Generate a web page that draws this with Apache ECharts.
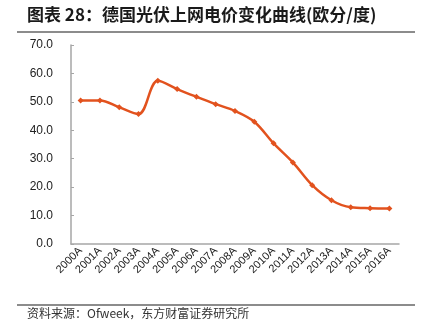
<!DOCTYPE html>
<html>
<head>
<meta charset="utf-8">
<script src="https://cdn.jsdelivr.net/npm/echarts@6/dist/echarts.min.js"></script>
<style>
html,body{margin:0;padding:0;background:#fff;}
#chart{width:426px;height:329px;}
</style>
</head>
<body>
<div id="chart"></div>
<script>
// Feed-in tariff for German PV, euro cents per kWh
const years = ['2000A','2001A','2002A','2003A','2004A','2005A','2006A','2007A','2008A','2009A','2010A','2011A','2012A','2013A','2014A','2015A','2016A'];
const tariff = [50.5, 50.5, 48.1, 45.7, 57.4, 54.5, 51.8, 49.2, 46.8, 43.0, 35.4, 28.7, 20.7, 15.4, 12.9, 12.6, 12.5];
const yTicks = [0, 10, 20, 30, 40, 50, 60, 70];

const chart = echarts.init(document.getElementById('chart'));
const font = '"Noto Sans CJK SC", sans-serif';
chart.setOption({
  animation: false,
  backgroundColor: '#fff',
  grid: { left: 71, right: 27, top: 45, bottom: 85 },
  graphic: [
    { type: 'text', left: 27, top: 6, style: { text: '图表 28：德国光伏上网电价变化曲线(欧分/度)', font: 'bold 17px ' + font, fill: '#1a1a1a' } },
    { type: 'rect', shape: { x: 17, y: 31, width: 398, height: 2 }, style: { fill: '#8c8c8c' } },
    { type: 'rect', shape: { x: 17, y: 304, width: 398, height: 2 }, style: { fill: '#8c8c8c' } },
    { type: 'text', left: 27, top: 307, style: { text: '资料来源：Ofweek，东方财富证券研究所', font: '12px ' + font, fill: '#333' } }
  ],
  xAxis: {
    type: 'category',
    data: years,
    boundaryGap: true,
    axisLine: { lineStyle: { color: '#a6a6a6', width: 1.5 } },
    axisTick: { inside: true, length: 3, lineStyle: { color: '#a6a6a6' } },
    axisLabel: { rotate: 45, interval: 0, fontSize: 11, color: '#222', fontFamily: 'Arial, "Liberation Sans", sans-serif', margin: 5 }
  },
  yAxis: {
    type: 'value',
    min: yTicks[0],
    max: yTicks[yTicks.length - 1],
    interval: 10,
    splitLine: { show: false },
    axisLine: { show: true, lineStyle: { color: '#a6a6a6', width: 1.5 } },
    axisTick: { show: true, inside: true, length: 3, lineStyle: { color: '#a6a6a6' } },
    axisLabel: { fontSize: 12, color: '#222', margin: 18, fontFamily: 'Arial, "Liberation Sans", sans-serif', formatter: v => v.toFixed(1) }
  },
  series: [{
    type: 'line',
    data: tariff,
    smooth: 0.35,
    symbol: 'diamond',
    symbolSize: 6,
    lineStyle: { color: '#E2521E', width: 2.5 },
    itemStyle: { color: '#E2521E' }
  }]
});
</script>
</body>
</html>
